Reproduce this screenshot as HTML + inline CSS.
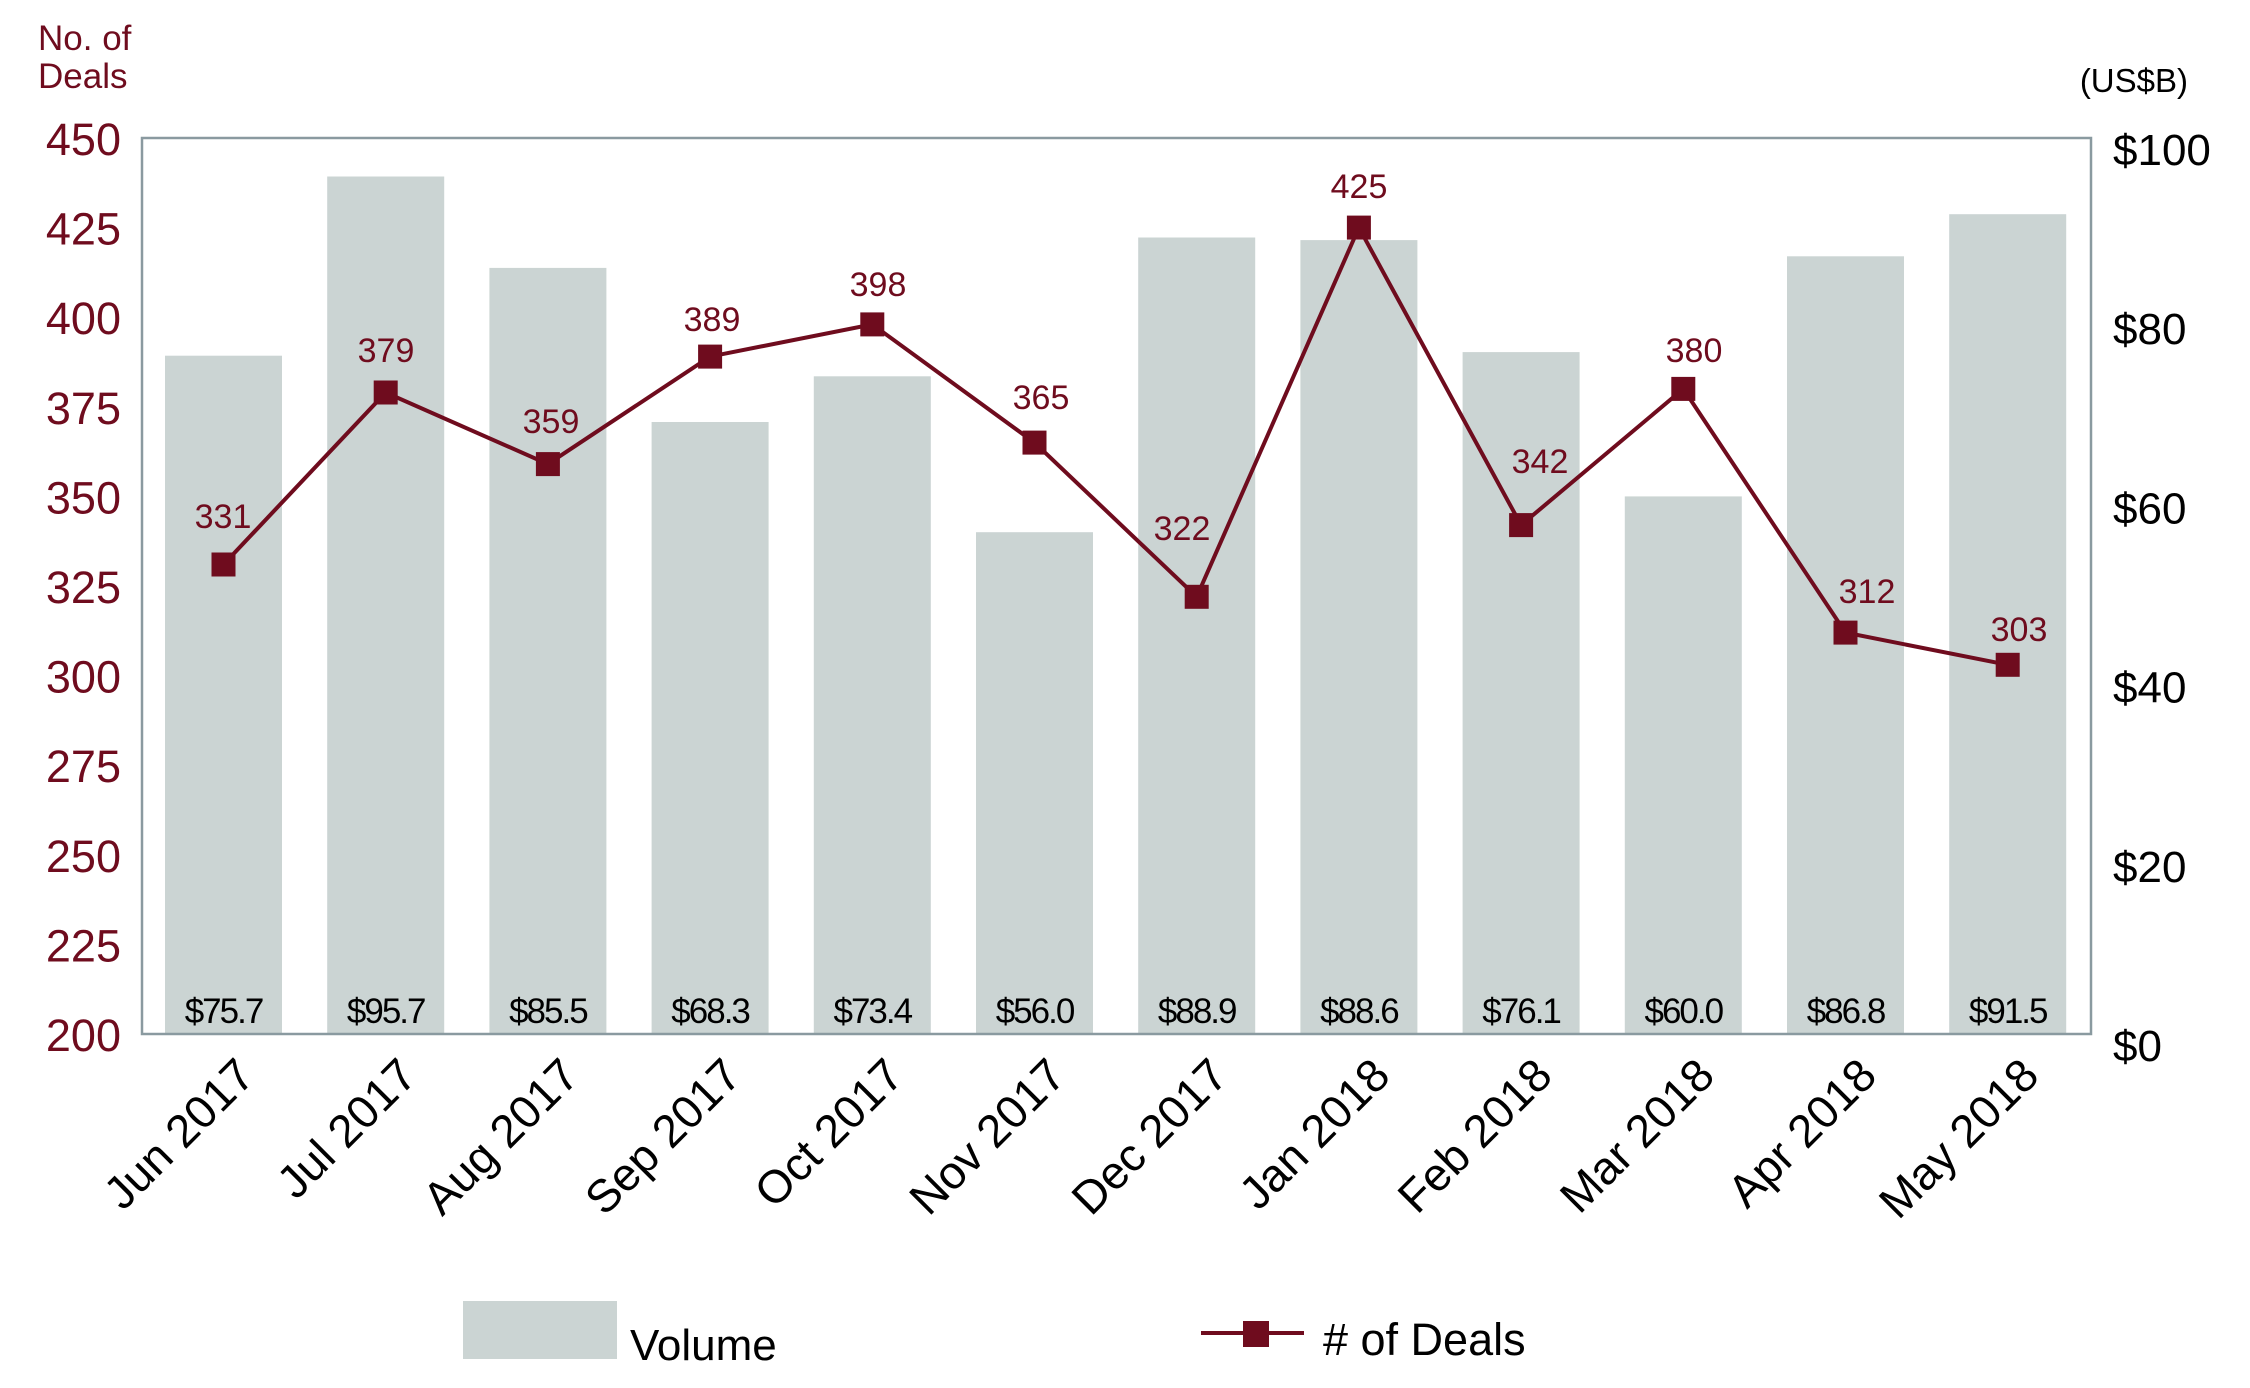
<!DOCTYPE html>
<html><head><meta charset="utf-8"><style>
html,body{margin:0;padding:0;background:#fff;}
svg{display:block;font-family:"Liberation Sans",Arial,sans-serif;}
</style></head><body>
<svg width="2250" height="1388" viewBox="0 0 2250 1388" xmlns="http://www.w3.org/2000/svg">
<rect width="2250" height="1388" fill="#fff"/>
<text x="38" y="50" font-size="35" fill="#6f0c1e">No. of</text>
<text x="38" y="88" font-size="35" fill="#6f0c1e">Deals</text>
<text x="2188" y="92" font-size="33" fill="#000" text-anchor="end">(US$B)</text>
<g fill="#cbd4d3">
<rect x="165" y="355.7" width="117" height="678.3"/>
<rect x="327.2" y="176.5" width="117" height="857.5"/>
<rect x="489.4" y="267.9" width="117" height="766.1"/>
<rect x="651.6" y="422" width="117" height="612"/>
<rect x="813.8" y="376.3" width="117" height="657.7"/>
<rect x="976" y="532.2" width="117" height="501.8"/>
<rect x="1138.2" y="237.5" width="117" height="796.5"/>
<rect x="1300.4" y="240.1" width="117" height="793.9"/>
<rect x="1462.6" y="352.1" width="117" height="681.9"/>
<rect x="1624.8" y="496.4" width="117" height="537.6"/>
<rect x="1787" y="256.3" width="117" height="777.7"/>
<rect x="1949.2" y="214.2" width="117" height="819.8"/>
</g>
<rect x="142" y="138" width="1949" height="896" fill="none" stroke="#8a9aa0" stroke-width="2.5"/>
<g font-size="35" fill="#000" text-anchor="middle" letter-spacing="-2">
<text x="223.5" y="1023">$75.7</text>
<text x="385.7" y="1023">$95.7</text>
<text x="547.9" y="1023">$85.5</text>
<text x="710.1" y="1023">$68.3</text>
<text x="872.3" y="1023">$73.4</text>
<text x="1034.5" y="1023">$56.0</text>
<text x="1196.7" y="1023">$88.9</text>
<text x="1358.9" y="1023">$88.6</text>
<text x="1521.1" y="1023">$76.1</text>
<text x="1683.3" y="1023">$60.0</text>
<text x="1845.5" y="1023">$86.8</text>
<text x="2007.7" y="1023">$91.5</text>
</g>
<g font-size="45" fill="#6f0c1e" text-anchor="end">
<text x="121" y="155">450</text>
<text x="121" y="244.6">425</text>
<text x="121" y="334.2">400</text>
<text x="121" y="423.8">375</text>
<text x="121" y="513.4">350</text>
<text x="121" y="603">325</text>
<text x="121" y="692.6">300</text>
<text x="121" y="782.2">275</text>
<text x="121" y="871.8">250</text>
<text x="121" y="961.4">225</text>
<text x="121" y="1051">200</text>
</g>
<g font-size="44" fill="#000">
<text x="2113" y="165">$100</text>
<text x="2113" y="344.2">$80</text>
<text x="2113" y="523.4">$60</text>
<text x="2113" y="702.6">$40</text>
<text x="2113" y="881.8">$20</text>
<text x="2113" y="1061">$0</text>
</g>
<polyline fill="none" stroke="#6f0c1e" stroke-width="4" points="223.5,564.5 385.7,392.5 547.9,464.1 710.1,356.6 872.3,324.4 1034.5,442.6 1196.7,596.8 1358.9,227.6 1521.1,525.1 1683.3,388.9 1845.5,632.6 2007.7,664.8"/>
<g fill="#6f0c1e">
<rect x="211.5" y="552.5" width="24" height="24"/>
<rect x="373.7" y="380.5" width="24" height="24"/>
<rect x="535.9" y="452.1" width="24" height="24"/>
<rect x="698.1" y="344.6" width="24" height="24"/>
<rect x="860.3" y="312.4" width="24" height="24"/>
<rect x="1022.5" y="430.6" width="24" height="24"/>
<rect x="1184.7" y="584.8" width="24" height="24"/>
<rect x="1346.9" y="215.6" width="24" height="24"/>
<rect x="1509.1" y="513.1" width="24" height="24"/>
<rect x="1671.3" y="376.9" width="24" height="24"/>
<rect x="1833.5" y="620.6" width="24" height="24"/>
<rect x="1995.7" y="652.8" width="24" height="24"/>
</g>
<g font-size="34" fill="#6f0c1e" text-anchor="middle">
<text x="223" y="528">331</text>
<text x="386" y="362">379</text>
<text x="551" y="433">359</text>
<text x="712" y="331">389</text>
<text x="878" y="296">398</text>
<text x="1041" y="409">365</text>
<text x="1182" y="540">322</text>
<text x="1359" y="198">425</text>
<text x="1540" y="473">342</text>
<text x="1694" y="362">380</text>
<text x="1867" y="603">312</text>
<text x="2019" y="641">303</text>
</g>
<g font-size="46" fill="#000" text-anchor="end">
<text transform="translate(257,1078) rotate(-45)">Jun 2017</text>
<text transform="translate(419.2,1078) rotate(-45)">Jul 2017</text>
<text transform="translate(581.4,1078) rotate(-45)">Aug 2017</text>
<text transform="translate(743.6,1078) rotate(-45)">Sep 2017</text>
<text transform="translate(905.8,1078) rotate(-45)">Oct 2017</text>
<text transform="translate(1068,1078) rotate(-45)">Nov 2017</text>
<text transform="translate(1230.2,1078) rotate(-45)">Dec 2017</text>
<text transform="translate(1392.4,1078) rotate(-45)">Jan 2018</text>
<text transform="translate(1554.6,1078) rotate(-45)">Feb 2018</text>
<text transform="translate(1716.8,1078) rotate(-45)">Mar 2018</text>
<text transform="translate(1879,1078) rotate(-45)">Apr 2018</text>
<text transform="translate(2041.2,1078) rotate(-45)">May 2018</text>
</g>
<rect x="463" y="1301" width="154" height="58" fill="#cbd4d3"/>
<text x="630" y="1360" font-size="44" fill="#000">Volume</text>
<line x1="1201" y1="1333" x2="1304" y2="1333" stroke="#6f0c1e" stroke-width="4"/>
<rect x="1243" y="1321" width="26" height="26" fill="#6f0c1e"/>
<text x="1323" y="1355" font-size="45" fill="#000"># of Deals</text>
</svg>
</body></html>
